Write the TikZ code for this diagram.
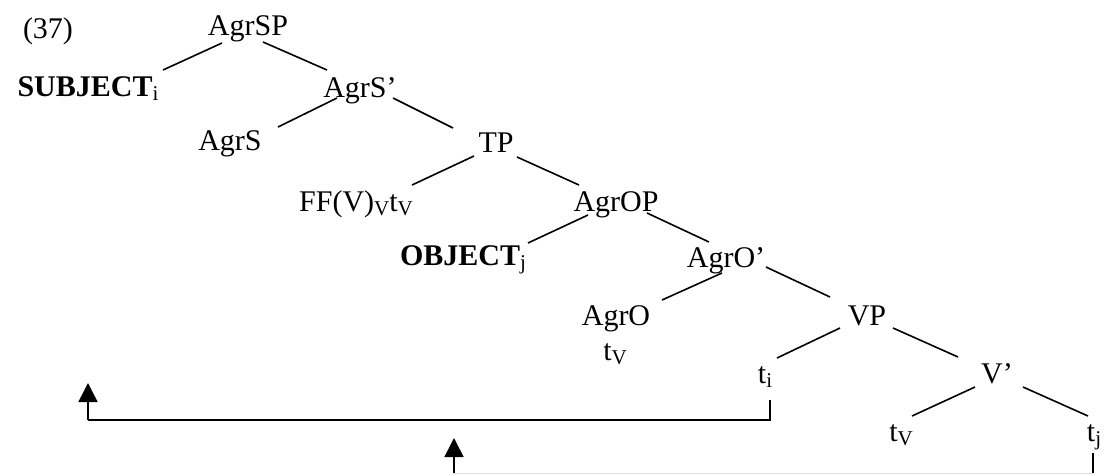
\documentclass[tikz,border=0pt]{standalone}
\usepackage{fontspec}
\setmainfont{Liberation Serif}
\usetikzlibrary{calc,arrows.meta}
\begin{document}
\begin{tikzpicture}[x=1pt,y=-1pt,
  lbl/.style={font=\fontsize{30}{36}\selectfont, inner sep=0pt, anchor=base},
  edge/.style={line width=1.6pt},
  trace/.style={line width=1.6pt},
  faint/.style={line width=1pt,black!12},
  mover/.style={line width=1.6pt,-{Triangle[width=19pt,length=19pt]}}]
\useasboundingbox (0,0) rectangle (1108,475);
\newcommand{\sbs}[1]{\raisebox{-4pt}{\fontsize{21}{24}\selectfont #1}}
\newcommand{\sv}{\sbs{V}}
% nodes
\node[lbl] (n37) at (48,38) {(37)};
\node[lbl] (AgrSP) at (248,35) {AgrSP};
\node[lbl] (SUBJ) at (88,96) {\textbf{SUBJECT}\sbs{i}};
\node[lbl] (AgrSb) at (360,97) {AgrS’};
\node[lbl] (AgrS) at (230,150) {AgrS};
\node[lbl] (TP) at (496,152) {TP};
\node[lbl] (FF) at (356,211) {FF(V)\sv t\sv};
\node[lbl] (AgrOP) at (616,211) {AgrOP};
\node[lbl] (OBJ) at (463,265) {\textbf{OBJECT}\sbs{j}};
\node[lbl] (AgrOb) at (726,267) {AgrO’};
\node[lbl] (AgrO) at (616,325) {AgrO};
\node[lbl] (tVa) at (615,360) {t\sv};
\node[lbl] (VP) at (867,325) {VP};
\node[lbl] (ti) at (765,383) {t\sbs{i}};
\node[lbl] (Vb) at (997,383) {V’};
\node[lbl] (tVb) at (901,441) {t\sv};
\node[lbl] (tj) at (1094,441) {t\sbs{j}};
% edges
\draw[edge] ($(AgrSP.base)+(-26,8)$) -- ($(SUBJ.base)+(75,-26)$);
\draw[edge] ($(AgrSP.base)+(15,7)$) -- ($(AgrSb.base)+(-33,-27)$);
\draw[edge] ($(AgrSb.base)+(-23,1)$) -- ($(AgrS.base)+(48,-23)$);
\draw[edge] ($(AgrSb.base)+(33,1)$) -- ($(TP.base)+(-43,-24)$);
\draw[edge] ($(TP.base)+(-22,4)$) -- ($(FF.base)+(56,-26)$);
\draw[edge] ($(TP.base)+(21,5)$) -- ($(AgrOP.base)+(-37,-26)$);
\draw[edge] ($(AgrOP.base)+(-28,4)$) -- ($(OBJ.base)+(65,-22)$);
\draw[edge] ($(AgrOP.base)+(31,2)$) -- ($(AgrOb.base)+(-17,-25)$);
\draw[edge] ($(AgrOb.base)+(-4,6)$) -- ($(AgrO.base)+(46,-25)$);
\draw[edge] ($(AgrOb.base)+(40,0)$) -- ($(VP.base)+(-37,-28)$);
\draw[edge] ($(VP.base)+(-27,3)$) -- ($(ti.base)+(12,-25)$);
\draw[edge] ($(VP.base)+(26,3)$) -- ($(Vb.base)+(-39,-26)$);
\draw[edge] ($(Vb.base)+(-22,4)$) -- ($(tVb.base)+(11,-25)$);
\draw[edge] ($(Vb.base)+(26,4)$) -- ($(tj.base)+(-6,-25)$);
% movement arrows
\coordinate (c1) at (88,420);
\coordinate (a1) at (88,383);
\draw[trace] ($(ti.base)+(5,17)$) |- (c1);
\draw[mover] (c1) -- (a1);
\coordinate (c2) at (454,473);
\coordinate (a2) at (454,438);
\draw[trace] ($(tj.base)+(-1,12)$) -- ($(tj.base)+(-1,32)$);
\draw[faint] ($(tj.base)+(-1,32)$) -- (c2);
\draw[mover] (c2) -- (a2);
\end{tikzpicture}
\end{document}
